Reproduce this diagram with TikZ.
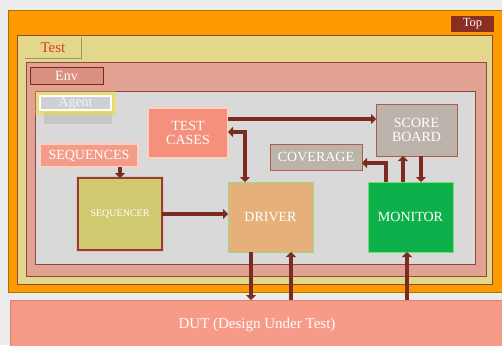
\documentclass[tikz,border=0pt]{standalone}
\usepackage{fontspec}
\setmainfont{Liberation Serif}
\usetikzlibrary{arrows.meta,calc}
\definecolor{bgc}{HTML}{ECECEC}
\definecolor{orangeT}{HTML}{FF9A00}
\definecolor{yellowT}{HTML}{E2D78A}
\definecolor{envc}{HTML}{E1A293}
\definecolor{agentc}{HTML}{D9D9D9}
\definecolor{edgec}{HTML}{8B4A3A}
\definecolor{arrc}{HTML}{7B2C1F}
\definecolor{topl}{HTML}{8B2E22}
\definecolor{testred}{HTML}{D8401A}
\definecolor{envl}{HTML}{D9907F}
\definecolor{agentl}{HTML}{CFCFD6}
\definecolor{tcfill}{HTML}{F4907C}
\definecolor{tcedge}{HTML}{FAD2C4}
\definecolor{sbfill}{HTML}{BCB3AA}
\definecolor{sbedge}{HTML}{B05A50}
\definecolor{sqfill}{HTML}{D1C96F}
\definecolor{drvfill}{HTML}{E6B07A}
\definecolor{drvedge}{HTML}{9BD68A}
\definecolor{monfill}{HTML}{0DB04B}
\definecolor{monedge}{HTML}{70E070}
\definecolor{dutfill}{HTML}{F89A88}
\tikzset{
  box/.style={rectangle, inner sep=0pt, outer sep=0pt, anchor=north west, align=center, text=white},
  big/.style={font=\fontsize{14}{14}\selectfont},
  arr/.style={draw=arrc, line width=4pt, -{Triangle[length=5pt,width=10pt]}},
  dbl/.style={draw=arrc, line width=4pt, {Triangle[length=5pt,width=10pt]}-{Triangle[length=5pt,width=10pt]}}
}
\begin{document}
\begin{tikzpicture}[x=1pt,y=-1pt]
\useasboundingbox (0,0) rectangle (502,345);
\fill[bgc] (0,0) rectangle (502,345);
% containers
\node[box, fill=orangeT, draw=orangeT!70!black, line width=0.5pt, minimum width=500pt, minimum height=282pt] (topbox) at (8,10) {};
\node[box, fill=yellowT, draw=edgec, line width=0.6pt, minimum width=475pt, minimum height=249pt] (testbox) at (17,35) {};
\node[box, fill=envc, draw=edgec, line width=0.6pt, minimum width=460pt, minimum height=214pt] (envbox) at (26,62) {};
\node[box, fill=agentc, draw=edgec, line width=0.6pt, minimum width=440pt, minimum height=173pt] (agentbox) at (35,91) {};
% labels
\node[box, fill=topl, text=white!85!pink, minimum width=43pt, minimum height=16pt, font=\fontsize{12.5}{13}\selectfont] (toplbl) at (451,16) {Top};
\node[box, fill=yellowT, text=testred, minimum width=56pt, minimum height=21pt, font=\fontsize{15}{15}\selectfont] (testlbl) at (25,37) {Test};
\draw[yellowT!70!black, line width=0.8pt] (testlbl.north east) -- (testlbl.south east) -- (testlbl.south west);
\node[box, fill=envl, draw=arrc, line width=0.8pt, text=white!92!pink, minimum width=73pt, minimum height=17pt, font=\fontsize{14}{14}\selectfont] (envlbl) at (30,67) {Env};
\fill[gray!70, opacity=0.35] (44,112) rectangle (112,124);
\draw[yellow!80!orange, opacity=0.3, line width=10pt] (40,96) rectangle (111,110);
\draw[yellow!80!orange, opacity=0.4, line width=5pt] (40,96) rectangle (111,110);
\node[box, fill=agentl, draw=white, line width=1.2pt, text=white!92!gray, minimum width=71pt, minimum height=14pt, font=\fontsize{14}{14}\selectfont] (agentlbl) at (40,96) {Agent};
% blocks
\node[box, big, fill=tcfill, draw=tcedge, line width=1.5pt, minimum width=80pt, minimum height=50pt] (tc) at (148,108) {TEST\\CASES};
\node[box, big, fill=sbfill, draw=sbedge, line width=0.8pt, minimum width=81pt, minimum height=52pt] (sb) at (376,104) {SCORE\\BOARD};
\node[box, big, fill=sbfill, draw=sbedge, line width=0.8pt, minimum width=92pt, minimum height=26pt] (cov) at (270,144) {COVERAGE};
\node[box, big, fill=tcfill!90!white, draw=tcedge, line width=1.5pt, minimum width=98pt, minimum height=23pt] (sqs) at (40,144) {SEQUENCES};
\draw[pink!80!red, opacity=0.45, line width=3.5pt] (78,178) rectangle (162,250);
\node[box, fill=sqfill, draw=arrc!85!pink, line width=1.2pt, minimum width=84pt, minimum height=72pt, font=\fontsize{10}{10}\selectfont] (sqr) at (78,178) {SEQUENCER};
\node[box, big, fill=drvfill, draw=drvedge, line width=0.8pt, minimum width=85pt, minimum height=70pt] (drv) at (228,182) {DRIVER};
\node[box, big, fill=monfill, draw=monedge, line width=1pt, minimum width=85pt, minimum height=70pt] (mon) at (368,182) {MONITOR};
\node[box, fill=dutfill, draw=dutfill!85!black, line width=0.5pt, minimum width=494pt, minimum height=50pt, font=\fontsize{15}{15}\selectfont] (dut) at (10,300) {DUT (Design Under Test)};
% helper coordinates
\coordinate (r1) at (0,119);
\coordinate (c2) at (245,132);
\coordinate (c5) at (386,163);
\coordinate (x6) at (403,0);
\coordinate (x7) at (421,0);
\coordinate (x8) at (251,0);
\coordinate (x9) at (291,0);
\coordinate (x10) at (407,0);
% connectors
\draw[arr] (tc.east |- r1) -- (sb.west |- r1);
\draw[dbl] (tc.east |- c2) -| (drv.north -| c2);
\draw[arr] (sqs.south -| sqr.north) -- (sqr.north);
\draw[arr] (sqr.east) -- (drv.west |- sqr.east);
\draw[arr] (mon.north -| c5) |- (cov.east |- c5);
\draw[arr] (mon.north -| x6) -- (sb.south -| x6);
\draw[arr] (sb.south -| x7) -- (mon.north -| x7);
\draw[arr] (drv.south -| x8) -- (dut.north -| x8);
\draw[arr] (dut.north -| x9) -- (drv.south -| x9);
\draw[arr] (dut.north -| x10) -- (mon.south -| x10);
\end{tikzpicture}
\end{document}
